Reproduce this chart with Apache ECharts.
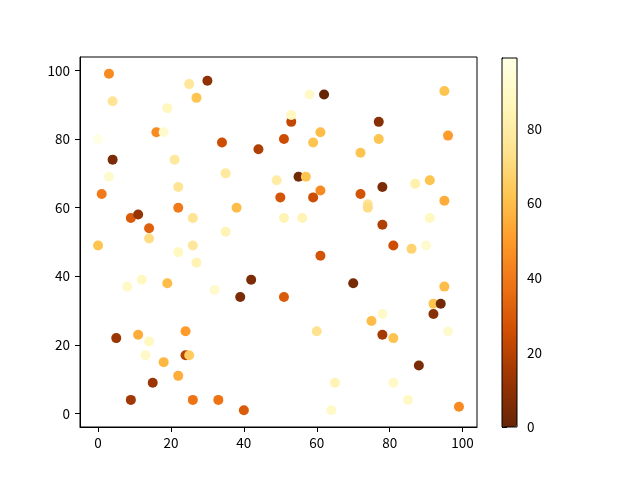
<!DOCTYPE html>
<html>
<head>
<meta charset="utf-8">
<script src="https://cdn.jsdelivr.net/npm/echarts@6/dist/echarts.min.js"></script>
<style>html,body{margin:0;padding:0;background:#fff}#c{width:640px;height:480px}</style>
</head>
<body>
<div id="c"></div>
<script>
const xs = [3,4,0,3,4,1,0,5,9,8,9,11,14,14,12,11,13,14,15,18,16,18,19,19,21,22,22,22,22,24,24,25,25,27,26,26,27,26,30,32,34,35,35,33,38,39,40,42,44,49,50,51,51,51,53,53,55,56,57,58,59,59,61,61,61,60,62,64,65,70,72,72,74,74,75,77,77,78,78,78,78,81,81,81,85,86,87,88,90,91,91,92,92,94,95,95,95,96,96,99];
const ys = [99,91,80,69,74,64,49,22,4,37,57,58,54,51,39,23,17,21,9,15,82,82,89,38,74,66,60,47,11,24,17,17,96,92,57,49,44,4,97,36,79,70,53,4,60,34,1,39,77,68,63,80,57,34,85,87,69,57,69,93,79,63,82,65,46,24,93,1,9,38,76,64,61,60,27,85,80,66,55,29,23,49,22,9,4,48,67,14,49,57,68,29,32,32,37,62,94,81,24,2];
const cs = [45,75,99,92,5,40,62,13,14,90,30,12,32,72,88,55,90,88,13,58,45,92,87,60,78,75,40,88,55,50,20,65,77,62,75,77,85,38,10,92,25,78,85,38,60,5,30,5,18,80,28,25,85,30,22,88,3,85,62,90,62,25,60,45,27,74,0,90,85,4,62,27,75,72,60,8,62,5,18,90,15,25,62,90,90,68,82,5,92,88,62,8,62,3,60,55,62,50,92,45];
const xTicks = [0,20,40,60,80,100];
const yTicks = [0,20,40,60,80,100];
const cbTicks = [0,20,40,60,80];
const cmap = ['#662506','#993404','#cc4c02','#ec7014','#fe9929','#fec44f','#fee391','#fff7bc','#ffffe5'];

const cMin = Math.min(...cs), cMax = Math.max(...cs);
const xMin = Math.min(...xs), xMax = Math.max(...xs);
const yMin = Math.min(...ys), yMax = Math.max(...ys);
const xm = (xMax - xMin) * 0.05, ym = (yMax - yMin) * 0.05;
const data = xs.map((x, i) => [x, ys[i], cs[i]]);
const font = 'Noto Sans CJK SC';
const fs = 13.5;

const chart = echarts.init(document.getElementById('c'), null, {renderer: 'canvas'});
chart.setOption({
  animation: false,
  backgroundColor: '#fff',
  textStyle: {fontFamily: font},
  grid: [
    {left: 80, top: 57, width: 397, height: 370, show: true, borderColor: '#000', borderWidth: 1, backgroundColor: 'transparent'},
    {left: 502, top: 58, width: 15, height: 369, show: true, borderColor: '#000', borderWidth: 1, backgroundColor: 'transparent', z: 10}
  ],
  xAxis: [
    {type: 'value', gridIndex: 0, min: xMin - xm, max: xMax + xm,
     splitLine: {show: false},
     axisLine: {show: true, onZero: false, lineStyle: {color: '#000'}},
     axisTick: {show: true, length: 5, lineStyle: {color: '#000'}, customValues: xTicks},
     axisLabel: {color: '#000', fontSize: fs, fontFamily: font, margin: 9, customValues: xTicks}},
    {type: 'value', gridIndex: 1, min: 0, max: 1, show: false}
  ],
  yAxis: [
    {type: 'value', gridIndex: 0, min: yMin - ym, max: yMax + ym,
     splitLine: {show: false},
     axisLine: {show: true, onZero: false, lineStyle: {color: '#000'}},
     axisTick: {show: true, length: 5, lineStyle: {color: '#000'}, customValues: yTicks},
     axisLabel: {color: '#000', fontSize: fs, fontFamily: font, margin: 10, customValues: yTicks}},
    {type: 'value', gridIndex: 1, min: cMin, max: cMax, position: 'right',
     splitLine: {show: false},
     axisLine: {show: true, lineStyle: {color: '#000'}},
     axisTick: {show: true, length: 5, lineStyle: {color: '#000'}, customValues: cbTicks},
     axisLabel: {color: '#000', fontSize: fs, fontFamily: font, margin: 10, customValues: cbTicks}}
  ],
  visualMap: {
    type: 'continuous', min: cMin, max: cMax, dimension: 2, seriesIndex: 0,
    orient: 'vertical', left: 502, top: 58, itemWidth: 15, itemHeight: 369,
    padding: 0, calculable: false, text: ['', ''], showLabel: false, realtime: false,
    inRange: {color: cmap}, textStyle: {fontSize: 0}
  },
  series: [{
    type: 'scatter', xAxisIndex: 0, yAxisIndex: 0, symbolSize: 10, data: data,
    itemStyle: {opacity: 1}
  }]
});
</script>
</body>
</html>
